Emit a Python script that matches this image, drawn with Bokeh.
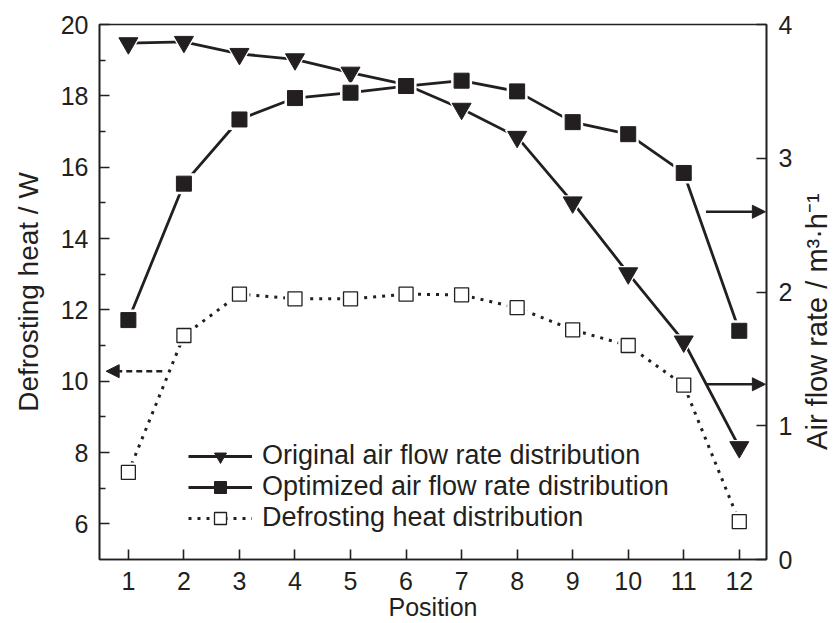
import math
from bokeh.plotting import figure
from bokeh.layouts import row
from bokeh.core.properties import value
from bokeh.models import (Range1d, LinearAxis, FixedTicker, Legend, LegendItem,
                          Arrow, NormalHead)
from bokeh.embed import file_html
from bokeh.resources import INLINE

# ---- data ----
positions = [1, 2, 3, 4, 5, 6, 7, 8, 9, 10, 11, 12]
original_flow = [3.86, 3.87, 3.78, 3.74, 3.64, 3.55, 3.37, 3.16, 2.67, 2.14, 1.63, 0.84]
optimized_flow = [1.79, 2.81, 3.29, 3.45, 3.49, 3.54, 3.58, 3.50, 3.27, 3.18, 2.89, 1.71]
defrost_heat = [7.44, 11.28, 12.44, 12.31, 12.31, 12.44, 12.42, 12.06, 11.44, 11.0, 9.89, 6.06]

x_ticks = positions
left_ticks = [6, 8, 10, 12, 14, 16, 18, 20]
left_minor = [7, 9, 11, 13, 15, 17, 19]
right_ticks = [0, 1, 2, 3, 4]

labels = ["Original air flow rate distribution",
          "Optimized air flow rate distribution",
          "Defrosting heat distribution"]
right_title = "Air flow rate / m\u00b3\u00b7h\u207b\u00b9"

# annotation arrows (pointing to the axis each series uses)
left_arrow = dict(x0=1.61, x1=0.60, y=10.28)          # left axis units
right_arrows = [dict(x0=11.40, x1=12.47, y=2.60),      # right axis units
                dict(x0=11.40, x1=12.47, y=1.31)]

INK = "#231f20"
FONT = "Liberation Sans"

p = figure(width=800, height=623, output_backend="svg", toolbar_location=None,
           x_range=Range1d(0.48, 12.49), y_range=Range1d(5, 20),
           min_border_left=99, min_border_right=34, min_border_top=24,
           min_border_bottom=60, background_fill_color="white",
           border_fill_color="white")
p.extra_y_ranges = {"air": Range1d(0, 4)}
p.grid.visible = False
p.outline_line_color = INK
p.outline_line_width = 1.6

def style_axis(ax, ticks, minor=None, size="25px"):
    ax.ticker = FixedTicker(ticks=ticks, minor_ticks=minor or [])
    ax.axis_line_color = INK
    ax.axis_line_width = 1.6
    ax.major_tick_in = 10
    ax.major_tick_out = 0
    ax.major_tick_line_color = INK
    ax.major_tick_line_width = 1.6
    ax.minor_tick_in = 6 if minor else 0
    ax.minor_tick_out = 0
    ax.minor_tick_line_color = INK if minor else None
    ax.minor_tick_line_width = 1.6
    ax.major_label_text_font = FONT
    ax.major_label_text_font_size = size
    ax.major_label_text_color = INK
    ax.axis_label_text_font = FONT
    ax.axis_label_text_font_style = "normal"
    ax.axis_label_text_color = INK

# bottom axis
xa = p.xaxis[0]
style_axis(xa, x_ticks)
xa.axis_label = "Position"
xa.axis_label_text_font_size = "25px"
xa.major_label_standoff = 12
xa.axis_label_standoff = 0

# left axis
ya = p.yaxis[0]
style_axis(ya, left_ticks, left_minor)
ya.axis_label = "Defrosting heat / W"
ya.axis_label_text_font_size = "28px"
ya.major_label_standoff = 11
ya.axis_label_standoff = 14

# right axis
ra = LinearAxis(y_range_name="air")
style_axis(ra, right_ticks)
ra.major_label_standoff = 12
p.add_layout(ra, "right")

# ---- series ----
# original air flow rate (right axis)
l1 = p.line(positions, original_flow, y_range_name="air", line_color=INK, line_width=2.8)
h1 = p.scatter(positions, original_flow, y_range_name="air", marker="inverted_triangle",
               size=25, fill_color="white", line_color=None)
m1 = p.scatter(positions, original_flow, y_range_name="air", marker="inverted_triangle",
               size=19, fill_color=INK, line_color=INK)

# optimized air flow rate (right axis)
l2 = p.line(positions, optimized_flow, y_range_name="air", line_color=INK, line_width=2.8)
h2 = p.scatter(positions, optimized_flow, y_range_name="air", marker="square",
               size=21, fill_color="white", line_color=None)
m2 = p.scatter(positions, optimized_flow, y_range_name="air", marker="square",
               size=15, fill_color=INK, line_color=INK)

# defrosting heat (left axis)
l3 = p.line(positions, defrost_heat, line_color=INK, line_width=3, line_dash="3 6")
h3 = p.scatter(positions, defrost_heat, marker="square", size=20,
               fill_color="white", line_color=None)
m3 = p.scatter(positions, defrost_heat, marker="square", size=14,
               fill_color="white", line_color=INK, line_width=1.3)

# ---- arrows ----
p.add_layout(Arrow(x_start=left_arrow["x0"], x_end=left_arrow["x1"],
                   y_start=left_arrow["y"], y_end=left_arrow["y"],
                   line_color=INK, line_width=2.6, line_dash="6 4",
                   end=NormalHead(size=13, fill_color=INK, line_color=INK)))
for a in right_arrows:
    p.add_layout(Arrow(x_start=a["x0"], x_end=a["x1"], y_start=a["y"], y_end=a["y"],
                       y_range_name="air", line_color=INK, line_width=2.6,
                       end=NormalHead(size=13, fill_color=INK, line_color=INK)))

# ---- legend ----
legend = Legend(items=[LegendItem(label=labels[0], renderers=[l1, h1, m1]),
                       LegendItem(label=labels[1], renderers=[l2, h2, m2]),
                       LegendItem(label=labels[2], renderers=[l3, h3, m3])],
                location=(89, 26), orientation="vertical",
                glyph_width=64, glyph_height=30, label_height=30,
                label_standoff=10, spacing=0, padding=0, margin=0,
                border_line_color=None, background_fill_alpha=0,
                label_text_font=FONT, label_text_font_size="27px",
                label_text_color=INK)
p.add_layout(legend, "center")

# ---- right-hand axis title, reading bottom-to-top (narrow strip) ----
t = figure(width=33, height=623, output_backend="svg", toolbar_location=None,
           x_range=Range1d(0, 1), y_range=Range1d(0, 623),
           x_axis_type=None, y_axis_type=None, min_border=0,
           outline_line_color=None, background_fill_color="white",
           border_fill_color="white")
t.grid.visible = False
t.text(x=[0.5], y=[277], text=[right_title], angle=math.pi / 2,
       text_align="center", text_baseline="middle",
       text_font=value(FONT), text_font_size="29px", text_color=INK)

layout = row(p, t, spacing=0)
open("out.html", "w").write(file_html(layout, INLINE))
